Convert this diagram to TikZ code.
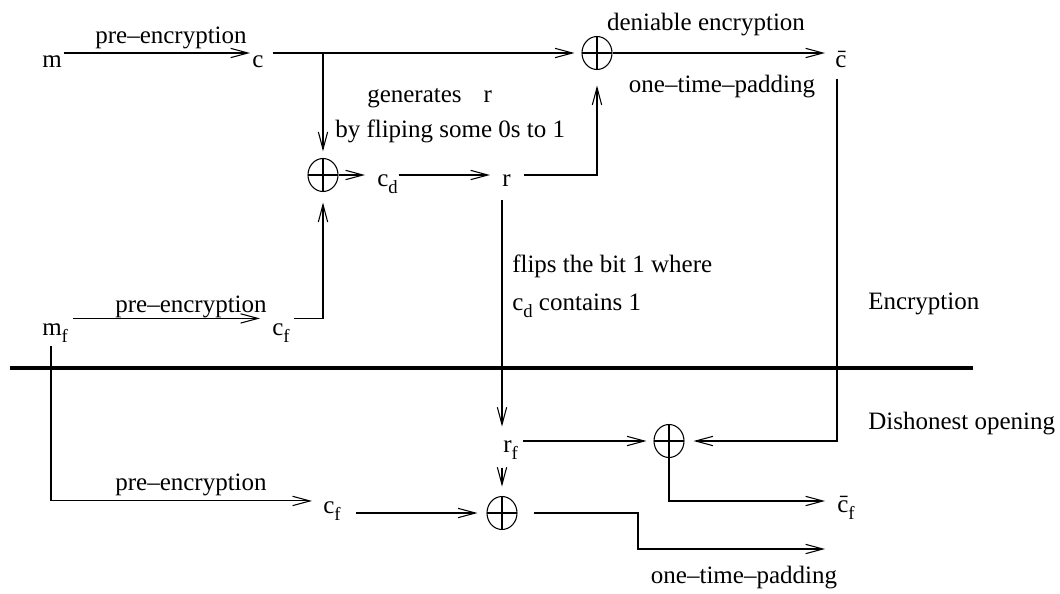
\documentclass[tikz,border=0pt]{standalone}
\usepackage{fontspec}
\setmainfont{Liberation Serif}
\usetikzlibrary{arrows.meta,shapes.geometric}
\newcommand\lowsub[1]{\raisebox{-5.5pt}{\fontsize{14}{16}\selectfont #1}}
\tikzset{
  lbl/.style={inner sep=0pt, font=\fontsize{18.75}{22}\selectfont},
  xor/.style={draw, ellipse, minimum width=22.5pt, minimum height=24.75pt, inner sep=0pt, line width=0.8pt,
    path picture={\draw[line width=0.8pt] (path picture bounding box.north) -- (path picture bounding box.south)
      (path picture bounding box.west) -- (path picture bounding box.east);}},
  arr/.style={line width=0.8pt, -{Straight Barb[length=13pt,width=7pt,line width=0.8pt]}},
  ln/.style={line width=0.8pt}
}
\begin{document}
\begin{tikzpicture}[x=0.75pt,y=-0.75pt]
\useasboundingbox (0,0) rectangle (1060,593);
% operators
\node[xor] (O1) at (597,53) {};
\node[xor] (O2) at (323,175) {};
\node[xor] (O3) at (669,441) {};
\node[xor] (O4) at (502,513) {};
% labels / values
\node[lbl,anchor=base west] (m) at (42,67) {m};
\node[lbl,anchor=base west] (c) at (252,67) {c};
\node[lbl,anchor=base west] (cbar) at (835,67) {\=c};
\node[lbl,anchor=base] (t1) at (171,43) {pre--encryption};
\node[lbl,anchor=base] (t2) at (706,30) {deniable encryption};
\node[lbl,anchor=base] (t3) at (722,92) {one--time--padding};
\node[lbl,anchor=base west] (t4) at (367,102) {generates\hspace{16.5pt}r};
\node[lbl,anchor=base west] (t5) at (335,137) {by fliping some 0s to 1};
\node[lbl,anchor=base west] (cd) at (377,186) {c\lowsub{d}};
\node[lbl,anchor=base west] (r) at (502,186) {r};
\node[lbl,anchor=base west] (t6) at (512,272) {flips the bit 1 where};
\node[lbl,anchor=base west] (t7) at (512,310) {c\lowsub{d} contains 1};
\node[lbl,anchor=base west] (enc) at (868,309) {Encryption};
\node[lbl,anchor=base west] (mf) at (42,335) {m\lowsub{f}};
\node[lbl,anchor=base west] (cf1) at (272,335) {c\lowsub{f}};
\node[lbl,anchor=base] (t8) at (191,312) {pre--encryption};
\node[lbl,anchor=base west] (dis) at (868,429) {Dishonest opening};
\node[lbl,anchor=base west] (rf) at (503,452) {r\lowsub{f}};
\node[lbl,anchor=base west] (cf2) at (323,513) {c\lowsub{f}};
\node[lbl,anchor=base west] (cfbar) at (837,512) {\=c\lowsub{f}};
\node[lbl,anchor=base] (t9) at (191,490) {pre--encryption};
\node[lbl,anchor=base] (t10) at (744,583) {one--time--padding};
\coordinate (k1) at (638,549);
\coordinate (otp) at (825,549);
% separator
\draw[line width=3pt] (10,368) -- (973,368);
% connectors, encryption part
\draw[arr,shorten <=1.5pt,shorten >=1.5pt] (m.east |- O1) -- (c.west |- O1);
\draw[arr,shorten <=6.75pt,shorten >=5.25pt] (c.east |- O1) -- (O1.west);
\draw[arr,shorten >=5pt] (O2 |- O1) -- (O2.north);
\draw[arr,shorten >=9pt] (O2.east) -- (cd.west |- O2);
\draw[arr,shorten <=0.5pt,shorten >=9pt] (cd.east |- O2) -- (r.west |- O2);
\draw[arr,shorten <=10pt,shorten >=11.6pt] (r.east |- O2) -| (O1.south);
\draw[arr,shorten >=7.5pt] (O1.east) -- (cbar.west |- O1);
\draw[arr,shorten <=3.75pt,shorten >=9pt] ([yshift=3.4pt]mf.north east) -- ([yshift=3.4pt]cf1.north west);
\draw[arr,shorten <=3pt,shorten >=7.9pt] ([yshift=3.4pt]cf1.north east) -| (O2.south);
% connectors, dishonest opening part
\draw[arr,shorten <=8.25pt,shorten >=6.75pt] ([xshift=1.5pt]cbar.south west) |- (O3.east);
\draw[arr,shorten <=10.5pt,shorten >=10pt] (r.south west) -- (r.south west |- rf.north);
\draw[arr,shorten <=4pt,shorten >=5.25pt] (rf.east |- O3) -- (O3.west);
\draw[arr,shorten <=6pt,shorten >=7pt] (O4 |- rf.south) -- (O4.north);
\draw[arr,shorten <=2.25pt,shorten >=8.25pt] ([xshift=6.75pt]mf.south west) |- (cf2.north west);
\draw[arr,shorten <=11.25pt,shorten >=6.75pt] (cf2.base east) -- (O4.west);
\draw[arr,shorten <=12pt] (O4.east) -| (k1) -- (otp);
\draw[arr,shorten >=9pt] (O3.south) |- ([yshift=8.25pt]cfbar.base west);
\end{tikzpicture}
\end{document}
